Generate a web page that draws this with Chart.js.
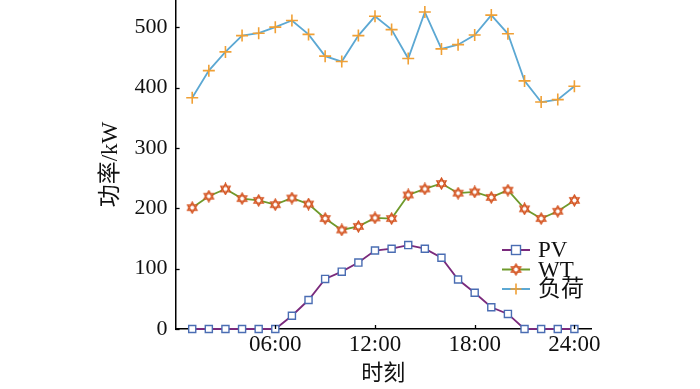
<!DOCTYPE html>
<html>
<head>
<meta charset="utf-8">
<script src="https://cdn.jsdelivr.net/npm/chart.js@4/dist/chart.umd.min.js"></script>
<style>
  html, body { margin: 0; padding: 0; background: #fff; }
  #wrap { width: 700px; height: 389px; position: relative; }
</style>
</head>
<body>
<div id="wrap"><canvas id="powerChart"></canvas></div>
<script>
"use strict";

// hour of day for each sample
const hours = [1, 2, 3, 4, 5, 6, 7, 8, 9, 10, 11, 12, 13, 14, 15, 16, 17, 18, 19, 20, 21, 22, 23, 24];
const pv   = [0, 0, 0, 0, 0, 0, 22, 48, 83, 95, 110, 130, 133, 139, 133, 118, 82, 60, 36, 25, 0, 0, 0, 0];
const wt   = [201, 220, 232, 216, 213, 206, 217, 207, 183, 164, 170, 184, 183, 222, 232, 241, 225, 227, 218, 230, 199, 183, 195, 213];
const load = [383, 428, 459, 486, 490, 500, 511, 488, 452, 443, 486, 518, 496, 448, 525, 464, 471, 487, 520, 489, 411, 376, 380, 402];

const xTicks = [6, 12, 18, 24];
const yTicks = [0, 100, 200, 300, 400, 500];
const seriesNames = ["PV", "WT", "负荷"];

const FONT = "'Liberation Serif', 'Noto Sans CJK SC', serif";
const C = {
  pvLine: "#7a2a7c", pvMark: "#4a6db3",
  wtLine: "#6f9a2c", wtMark: "#d4521e",
  ldLine: "#5ca8d3", ldMark: "#f0a035"
};

// hexagram marker for WT
function makeStar(size, color) {
  const cv = document.createElement("canvas");
  cv.width = size; cv.height = size;
  const g = cv.getContext("2d");
  const c = size / 2, r = size / 2 - 1.2;
  const tri = a0 => {
    g.beginPath();
    for (let i = 0; i < 3; i++) {
      const a = a0 + i * 2 * Math.PI / 3;
      const px = c + r * Math.cos(a), py = c + r * Math.sin(a);
      i ? g.lineTo(px, py) : g.moveTo(px, py);
    }
    g.closePath();
  };
  g.strokeStyle = color; g.fillStyle = "#fff"; g.lineWidth = 1.4;
  tri(-Math.PI / 2); g.fill(); tri(Math.PI / 2); g.fill();
  tri(-Math.PI / 2); g.stroke(); tri(Math.PI / 2); g.stroke();
  return cv;
}
const starImg = makeStar(13, C.wtMark);

const pts = arr => arr.map((v, i) => ({ x: hours[i], y: v }));

// inward tick marks on both axes
const inwardTicks = {
  id: "inwardTicks",
  afterDraw(chart) {
    const ctx = chart.ctx, xs = chart.scales.x, ys = chart.scales.y;
    ctx.save();
    ctx.strokeStyle = "#000"; ctx.lineWidth = 1.3;
    xTicks.forEach(v => {
      const px = Math.round(xs.getPixelForValue(v)) + 0.5;
      ctx.beginPath(); ctx.moveTo(px, ys.bottom); ctx.lineTo(px, ys.bottom - 4); ctx.stroke();
    });
    yTicks.forEach(v => {
      const py = Math.round(ys.getPixelForValue(v)) + 0.5;
      ctx.beginPath(); ctx.moveTo(xs.left, py); ctx.lineTo(xs.left + 4, py); ctx.stroke();
    });
    ctx.restore();
  }
};

// legend inside the plot, lower right
const innerLegend = {
  id: "innerLegend",
  afterDraw(chart) {
    const ctx = chart.ctx, a = chart.chartArea;
    const x0 = a.right - 89, y0 = a.bottom - 79, gap = 19.5;
    ctx.save();
    ctx.font = "23px " + FONT;
    ctx.textBaseline = "middle";
    chart.data.datasets.forEach((ds, i) => {
      const y = y0 + i * gap;
      ctx.strokeStyle = ds.borderColor; ctx.lineWidth = 2;
      ctx.beginPath(); ctx.moveTo(x0, y); ctx.lineTo(x0 + 28, y); ctx.stroke();
      const mx = x0 + 14;
      if (i === 0) {
        ctx.strokeStyle = C.pvMark; ctx.lineWidth = 1.4; ctx.fillStyle = "#fff";
        ctx.fillRect(mx - 4.5, y - 4.5, 9, 9); ctx.strokeRect(mx - 4.5, y - 4.5, 9, 9);
      } else if (i === 1) {
        ctx.drawImage(starImg, mx - 6.5, y - 6.5);
      } else {
        ctx.strokeStyle = C.ldMark; ctx.lineWidth = 1.6;
        ctx.beginPath(); ctx.moveTo(mx - 5.5, y); ctx.lineTo(mx + 5.5, y);
        ctx.moveTo(mx, y - 5.5); ctx.lineTo(mx, y + 5.5); ctx.stroke();
      }
      ctx.fillStyle = "#111";
      ctx.fillText(seriesNames[i], x0 + 36, y + 1);
    });
    ctx.restore();
  }
};

const noEdgePad = s => { s.paddingTop = 0; s.paddingBottom = 0; s.paddingLeft = 0; s.paddingRight = 0; };

function boot() {
  Chart.defaults.font.family = FONT;
  Chart.defaults.color = "#111";

  new Chart(document.getElementById("powerChart"), {
    type: "line",
    data: {
      datasets: [
        { label: seriesNames[0], data: pts(pv), borderColor: C.pvLine, borderWidth: 1.8,
          pointStyle: "rect", pointRadius: 5, pointBorderColor: C.pvMark, pointBackgroundColor: "#fff",
          pointBorderWidth: 1.4, clip: false },
        { label: seriesNames[1], data: pts(wt), borderColor: C.wtLine, borderWidth: 1.8,
          pointStyle: starImg, clip: false },
        { label: seriesNames[2], data: pts(load), borderColor: C.ldLine, borderWidth: 1.8,
          pointStyle: "cross", pointRadius: 6, pointBorderColor: C.ldMark, pointBorderWidth: 1.6, clip: false }
      ]
    },
    options: {
      responsive: true,
      maintainAspectRatio: false,
      animation: false,
      layout: { autoPadding: false, padding: { left: 97, right: 109, top: 0, bottom: 2 } },
      plugins: { legend: { display: false }, tooltip: { enabled: false } },
      elements: { line: { tension: 0 } },
      scales: {
        x: {
          type: "linear", min: 0, max: 25,
          afterBuildTicks: s => { s.ticks = xTicks.map(v => ({ value: v })); },
          afterFit: noEdgePad,
          ticks: { font: { size: 23 }, color: "#111", padding: 2, maxRotation: 0,
                   callback: v => String(v).padStart(2, "0") + ":00" },
          grid: { display: false, drawTicks: false },
          border: { display: true, color: "#000", width: 1.5 },
          title: { display: true, text: "时刻", font: { size: 22 }, color: "#111", padding: { top: 0, bottom: 0 } }
        },
        y: {
          min: 0, max: 545,
          afterBuildTicks: s => { s.ticks = yTicks.map(v => ({ value: v })); },
          afterFit: noEdgePad,
          ticks: { font: { size: 22 }, color: "#111", padding: 8 },
          grid: { display: false, drawTicks: false },
          border: { display: true, color: "#000", width: 1.5 },
          title: { display: true, text: "功率/kW", font: { size: 23 }, color: "#111", padding: { top: 0, bottom: 2 } }
        }
      }
    },
    plugins: [inwardTicks, innerLegend]
  });
}

document.readyState === "loading"
  ? document.addEventListener("DOMContentLoaded", boot)
  : boot();
</script>
</body>
</html>
